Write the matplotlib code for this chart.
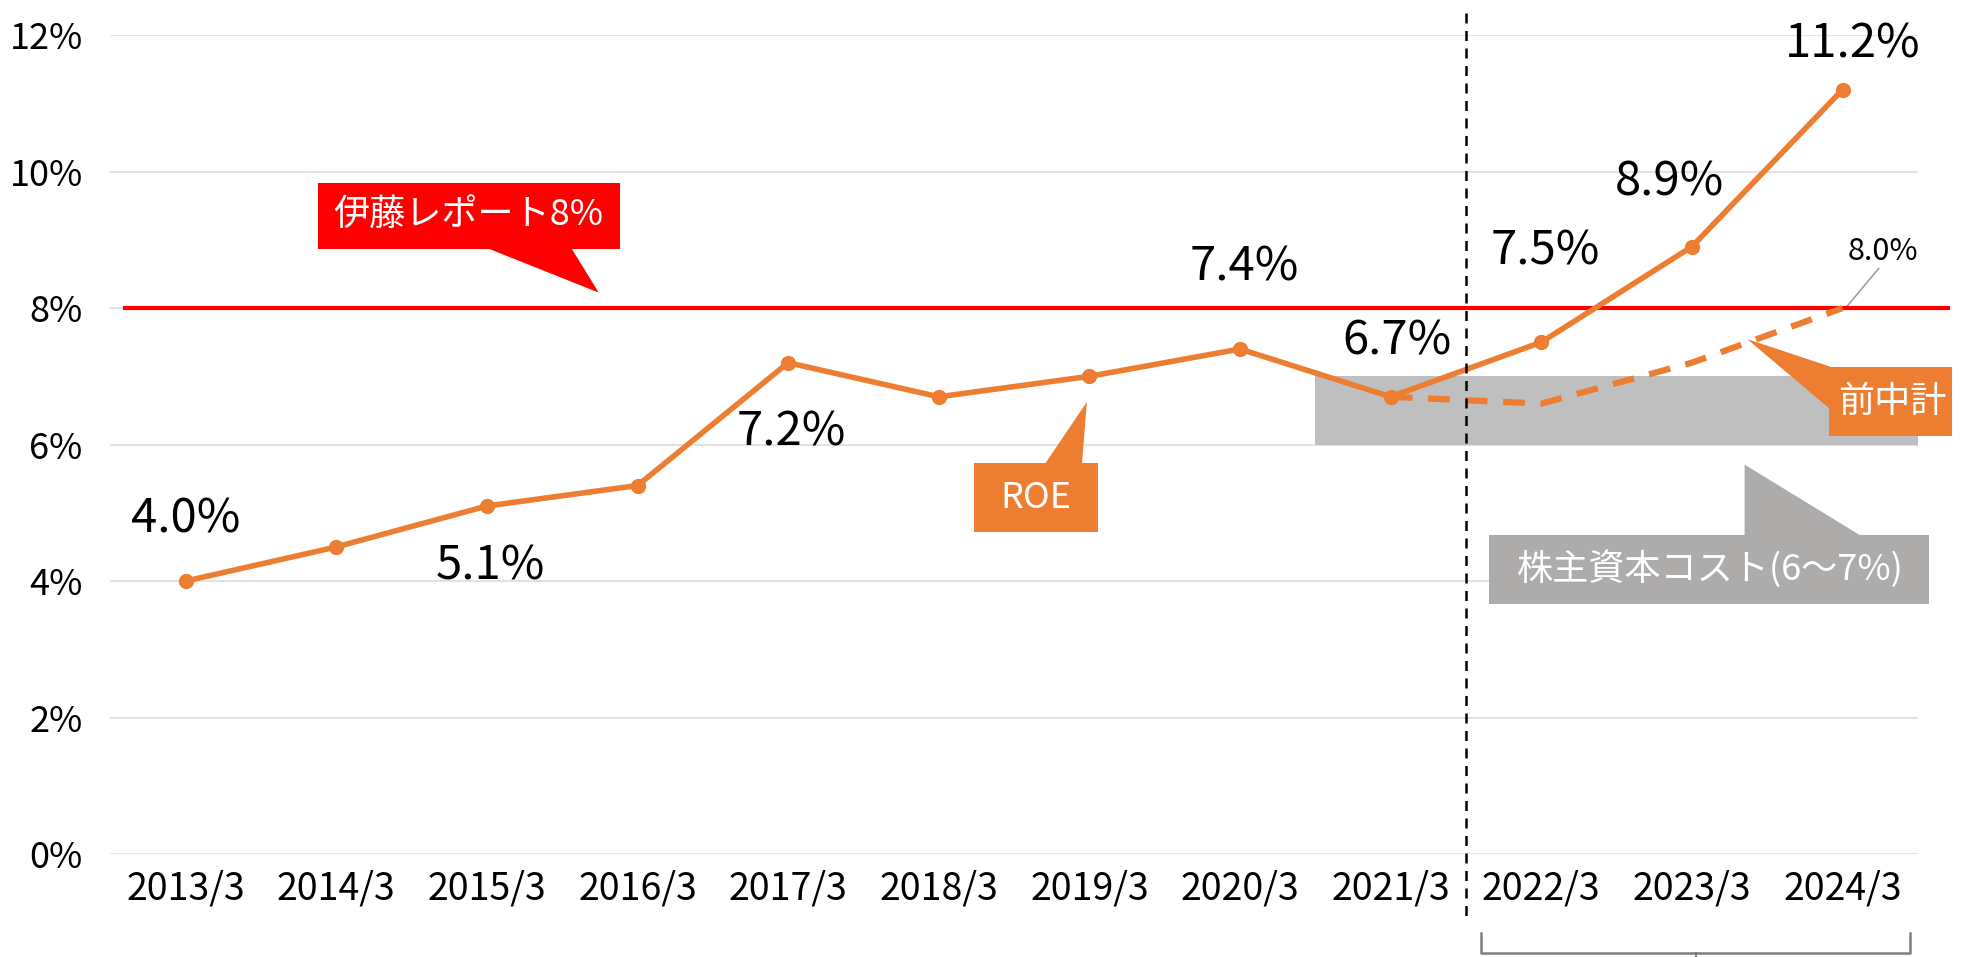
import matplotlib
matplotlib.use("Agg")
import matplotlib.pyplot as plt
from matplotlib.patches import Polygon, Rectangle

plt.rcParams['font.family'] = ['Noto Sans CJK JP', 'DejaVu Sans']

# data
years = ["2013/3", "2014/3", "2015/3", "2016/3", "2017/3", "2018/3",
         "2019/3", "2020/3", "2021/3", "2022/3", "2023/3", "2024/3"]
roe = [4.0, 4.5, 5.1, 5.4, 7.2, 6.7, 7.0, 7.4, 6.7, 7.5, 8.9, 11.2]
plan_idx = [8, 9, 10, 11]
plan = [6.7, 6.6, 7.2, 8.0]
ito_target = 8.0
cost_low, cost_high = 6.0, 7.0
# which points get a value label, and where the label sits
label_idx = [0, 2, 4, 7, 8, 9, 10, 11]
label_pos = [(0.0, 4.9), (0.02, 4.22), (0.02, 6.18), (0.03, 8.6),
             (0.04, 7.52), (0.03, 8.83), (-0.15, 9.84), (0.07, 11.87)]

ORANGE = "#ED7D31"
RED = "#FF0000"

fig = plt.figure(figsize=(19.68, 9.57), dpi=100)
ax = fig.add_axes([0.0561, 0.1076, 0.9184, 0.8557])

x = list(range(len(years)))

# grid
for v in range(0, 13, 2):
    ax.axhline(v, color="#E2E2E2", lw=1.5, zorder=0)

# shareholders' equity cost band
ax.add_patch(Rectangle((7.5, cost_low), 4.0, cost_high - cost_low,
                       facecolor="#BFBFBF", edgecolor="none", zorder=1))

# Ito report line
ax.axhline(ito_target, xmin=0.0083, xmax=1.0167, color=RED, lw=3,
           zorder=3, clip_on=False)

# ROE
ax.plot(x, roe, color=ORANGE, lw=4, marker="o", ms=10, zorder=5)
ax.plot(plan_idx, plan, color=ORANGE, lw=4.5, ls=(0, (3.5, 2.5)), zorder=4)

# vertical separator
ax.plot([8.5, 8.5], [12.33, -1.0], color="black", lw=1.8, ls=(0, (4, 3)),
        clip_on=False, zorder=6)

# labels
for idx, (dx, yy) in zip(label_idx, label_pos):
    ax.text(idx + dx, yy, f"{roe[idx]:.1f}%", ha="center", va="center",
            fontsize=34, zorder=7)

ax.text(11.27, 8.83, f"{plan[-1]:.1f}%", ha="center", va="center", fontsize=22)
ax.plot([11.24, 11.02], [8.58, 8.0], color="#A0A0A0", lw=1.2)

# callouts
def callout(box, tail, color, text, center):
    x0, x1, y0, y1 = box
    ax.add_patch(Rectangle((x0, y0), x1 - x0, y1 - y0, facecolor=color,
                           edgecolor="none", zorder=8, clip_on=False))
    ax.add_patch(Polygon(tail, closed=True, facecolor=color, edgecolor="none",
                         zorder=8, clip_on=False))
    ax.text(center[0], center[1], text, ha="center", va="center", color="white",
            fontsize=26, zorder=9, clip_on=False)

callout((0.875, 2.883, 8.87, 9.83),
        [(2.0, 8.88), (2.56, 8.88), (2.742, 8.227)],
        RED, "伊藤レポート8%", (1.875, 9.35))
callout((5.233, 6.058, 4.712, 5.724),
        [(5.70, 5.70), (5.95, 5.70), (5.983, 6.626)],
        ORANGE, "ROE", (5.645, 5.22))
callout((10.908, 11.725, 6.129, 7.141),
        [(10.367, 7.546), (10.92, 7.141), (10.92, 6.515)],
        ORANGE, "前中計", (11.33, 6.63))
callout((8.65, 11.575, 3.663, 4.675),
        [(10.35, 4.66), (10.35, 5.706), (11.125, 4.66)],
        "#AEABAB", "株主資本コスト(6～7%)", (10.12, 4.18))

# bracket under forecast period
ax.plot([8.6, 8.6, 11.45, 11.45], [-1.16, -1.45, -1.45, -1.16],
        color="#7F7F7F", lw=1.8, clip_on=False)
ax.plot([10.03, 10.03], [-1.45, -1.5], color="#7F7F7F", lw=1.5, clip_on=False)

ax.set_xlim(-0.5, 11.5)
ax.set_ylim(0, 12)
ax.set_xticks(x)
ax.set_xticklabels(years)
ax.set_yticks(range(0, 13, 2))
ax.set_yticklabels([f"{v}%" for v in range(0, 13, 2)])
ax.tick_params(axis="both", length=0, labelsize=26)
ax.tick_params(axis="x", labelsize=27, pad=11)
ax.tick_params(axis="y", pad=20)
for s in ax.spines.values():
    s.set_visible(False)

fig.savefig("out.png", dpi=100)
